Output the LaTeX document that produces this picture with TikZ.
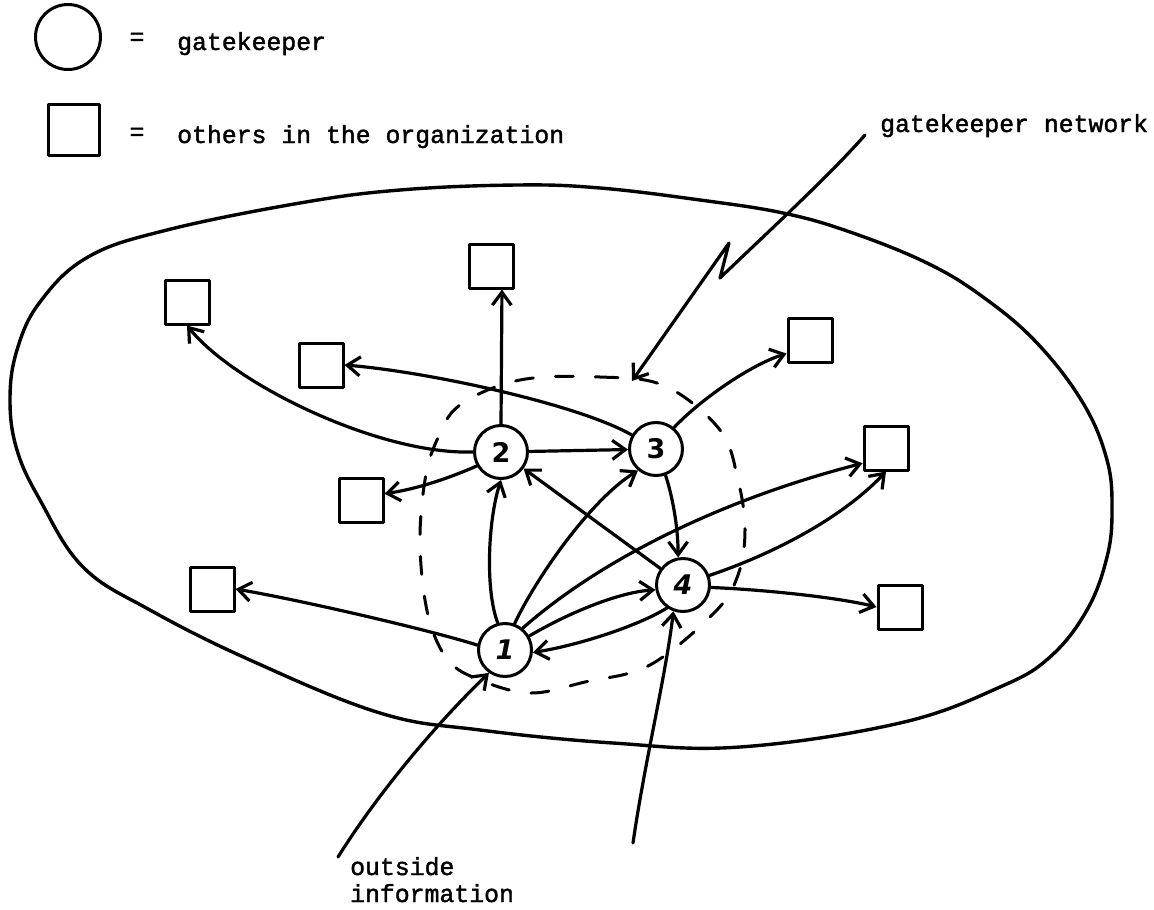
\documentclass[tikz,border=0pt]{standalone}
\usepackage{fontspec}
\newfontfamily\tw[FakeBold=1.6,AutoFakeBold=1.6]{Liberation Mono}
\newfontfamily\hw{DejaVu Sans}
\usetikzlibrary{arrows.meta,calc}
\begin{document}
\begin{tikzpicture}[x=1pt,y=-1pt,
  gk/.style={circle,draw,line width=3pt,minimum size=53pt,inner sep=0pt,font=\hw\bfseries\fontsize{27}{27}\selectfont},
  oth/.style={rectangle,draw,line width=3pt,minimum size=44pt,inner sep=0pt},
  conn/.style={line width=3.2pt,-{Straight Barb[length=13pt,width=19pt]}},
  txt/.style={inner sep=0pt,font=\tw\bfseries\fontsize{24.8}{27}\selectfont},
  blob/.style={line width=3.4pt},
  netw/.style={line width=3pt,dash pattern=on 18pt off 22pt},
  line cap=round, line join=round]

\useasboundingbox (0,0) rectangle (1154,910);

% legend
\node[gk,minimum size=65pt] (lc) at (68,37) {};
\node[oth,minimum size=51pt] (ls) at (74,130) {};
\node[txt] (eq1) at (137,39) {=};
\node[txt] (eq2) at (137,134) {=};
\node[txt,anchor=base west] (t1) at (177,50) {gatekeeper};
\node[txt,anchor=base west] (t2) at (177,143) {others in the organization};
\node[txt,anchor=base west] (t3) at (880,132) {gatekeeper network};
\node[txt,anchor=base west] (t4) at (350,875) {outside};
\node[txt,anchor=base west] (t5) at (350,902) {information};

% organization outline
\draw[blob] plot[smooth cycle,tension=0.65] coordinates {
 (167,230) (300,203) (400,190) (517,185) (600,188) (700,200) (783,213)
 (850,232) (927,263) (983,297) (1037,343) (1083,403) (1107,460) (1112,510)
 (1107,557) (1087,610) (1050,657) (1000,687) (900,723) (740,747) (613,743)
 (480,730) (380,713) (250,660) (150,610) (83,567) (40,500) (17,450)
 (10,400) (17,350) (40,302) (88,257)};

% gatekeeper network (dashed)
\draw[netw] plot[smooth cycle,tension=0.6] coordinates {
 (520,380) (600,377) (665,386) (720,430) (738,480) (745,530) (738,575)
 (715,612) (650,665) (585,682) (530,693) (480,680) (448,660) (428,615)
 (420,545) (425,480) (437,440) (460,405)};

% gatekeepers
\node[gk] (n1) at (505,650) {\itshape 1};
\node[gk] (n2) at (501,452) {2};
\node[gk] (n3) at (656,449) {3};
\node[gk] (n4) at (683,585) {\itshape 4};

% others
\node[oth] (sa) at (187,302) {};
\node[oth] (sb) at (491,266) {};
\node[oth] (sc) at (321,365) {};
\node[oth] (sd) at (361,500) {};
\node[oth] (se) at (212,589) {};
\node[oth] (sf) at (810,340) {};
\node[oth] (sg) at (886,448) {};
\node[oth] (sh) at (900,607) {};

% free ends
\coordinate (o1) at (338,857);
\coordinate (o4) at (633,843);
\coordinate (gn) at (865,135);
\coordinate (gnt) at (632,381);

% connectors
\draw[conn] (n2.west) .. controls (380,455) and (235,385) .. (sa.south);
\draw[conn] (n3.150) .. controls (580,405) and (430,372) .. (sc.east);
\draw[conn] (n2.north) -- (sb.-65);
\draw[conn] (n2.210) .. controls (440,482) and (410,490) .. (sd.15);
\draw[conn] (n2) -- (n3);
\draw[conn] (n1.105) .. controls (485,590) and (488,520) .. (n2.south);
\draw[conn] (n1.70) .. controls (535,580) and (590,500) .. (n3.230);
\draw[conn] (n4) -- (n2);
\draw[conn] (n3.290) .. controls (672,495) and (678,525) .. (n4.100);
\draw[conn] (n1.51) .. controls (600,560) and (720,500) .. (sg.-147);
\draw[conn] (n4.20) .. controls (770,555) and (840,520) .. (sg.south);
\draw[conn] (n1.30) .. controls (570,612) and (620,592) .. (n4.190);
\draw[conn] (n4.235) .. controls (640,625) and (580,645) .. (n1.355);
\draw[conn] (n4.355) .. controls (770,590) and (840,598) .. (sh.west);
\draw[conn] (n3.50) .. controls (700,400) and (750,365) .. (sf.-150);
\draw[conn] (n1.170) .. controls (430,630) and (300,600) .. (se.east);
\draw[conn] (o1) .. controls (380,790) and (440,720) .. (n1.235);
\draw[conn] (o4) .. controls (645,760) and (665,680) .. (n4.250);
\draw[conn] (gn) .. controls (830,175) and (770,230) .. (720,278) -- (729,243) -- (gnt);
\end{tikzpicture}
\end{document}
